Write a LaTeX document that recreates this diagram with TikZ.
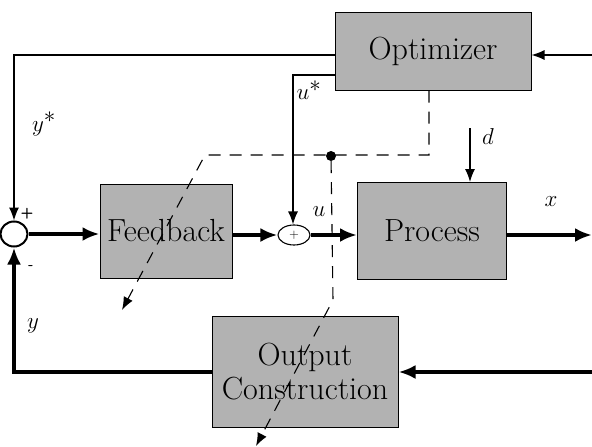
\documentclass[tikz,border=0pt]{standalone}
\usepackage{fix-cm}
\usepackage{fontspec}
\usetikzlibrary{arrows.meta,positioning,shapes.geometric}
\tikzstyle{block}=[rectangle,draw=black,line width=1pt,fill=black!30,
align=center,inner sep=0pt,font=\fontsize{32}{34}\selectfont]
\tikzstyle{sumnode}=[ellipse,draw=black,fill=white,inner sep=0pt]
\tikzstyle{wire}=[line width=1.3pt,-{Latex[length=13pt,width=10pt]}]
\tikzstyle{bus}=[line width=3.4pt,-{Latex[length=17pt,width=14pt]}]
\tikzstyle{probe}=[line width=1.1pt,dash pattern=on 12pt off 9pt,
-{Latex[length=13pt,width=10pt]}]
\tikzstyle{sig}=[font=\fontsize{23}{26}\selectfont]
\tikzstyle{sgn}=[font=\sffamily\bfseries\fontsize{15}{17}\selectfont]

\begin{document}
\begin{tikzpicture}[x=1pt,y=-1pt]
            \useasboundingbox (0,0) rectangle (592,447);

            % BLOCKS

            \node[block,minimum width=196pt,minimum height=78pt] (opt) at (433,51) {Optimizer};
            \node[block,minimum width=132pt,minimum height=94pt] (fb) at (166,231) {Feedback};
            \node[block,minimum width=149pt,minimum height=97pt] (proc) at (432,231) {Process};
            \node[block,minimum width=186pt,minimum height=111pt] (outc) at (305,372) {Output\\Construction};

            \node[sumnode,line width=2pt,minimum width=27pt,minimum height=25pt] (sum1) at (14,234) {};
            \node[sumnode,line width=1.1pt,minimum width=32pt,minimum height=20pt,
                  font=\sffamily\fontsize{13}{14}\selectfont] (sum2) at (294,235) {+};

            % free ends at the right border
            \coordinate (inR) at (592,55);
            \coordinate (xout) at (592,235);
            \coordinate (yin) at (592,372);
            \coordinate (dtop) at (470,128);

            % SIGNALS

            \draw[wire] (inR) -- (inR -| opt.east);
            \draw[wire] ([yshift=-4pt]opt.west) -| (sum1.north);
            \draw[wire] ([yshift=-24pt]opt.west) -| ([xshift=-1pt]sum2.north);
            \draw[wire] (dtop) -- (dtop |- proc.north);

            \draw[bus] (sum1.east) -- (sum1.east -| fb.west);
            \draw[bus] (fb.east |- sum2) -- (sum2.west);
            \draw[bus] (sum2.east) -- (sum2.east -| proc.west);
            \draw[bus] (proc.east |- xout) -- (xout);
            \draw[bus] (yin) -- (yin -| outc.east);
            \draw[bus] (outc.west |- yin) -| (sum1.south);

            % Labels

            \node[sig] (lys) at (44,124) {$y^{\textstyle *}$};
            \node[sig] (lus) at (309,90) {$u^{\textstyle *}$};
            \node[sig] (lu) at (319,212) {$u$};
            \node[sig] (ld) at (488,137) {$d$};
            \node[sig] (lx) at (551,202) {$x$};
            \node[sig] (ly) at (33,326) {$y$};
            \node[sgn] (lp) at (27,214) {+};
            \node[sgn] (lm) at (31,268) {-};

            % Dashed information paths

            \coordinate (bend1) at (205,155);
            \coordinate (fbtip) at (122,310);
            \coordinate (bend2) at (333,300);
            \coordinate (octip) at (256,446);

            \draw[probe] ([xshift=-4pt]opt.south) |- (bend1) -- (fbtip);
            \node[circle,fill=black,inner sep=0pt,minimum size=10pt] (dot) at (331,156) {};
            \draw[probe] (dot) -- (bend2) -- (octip);

        \end{tikzpicture}
\end{document}
